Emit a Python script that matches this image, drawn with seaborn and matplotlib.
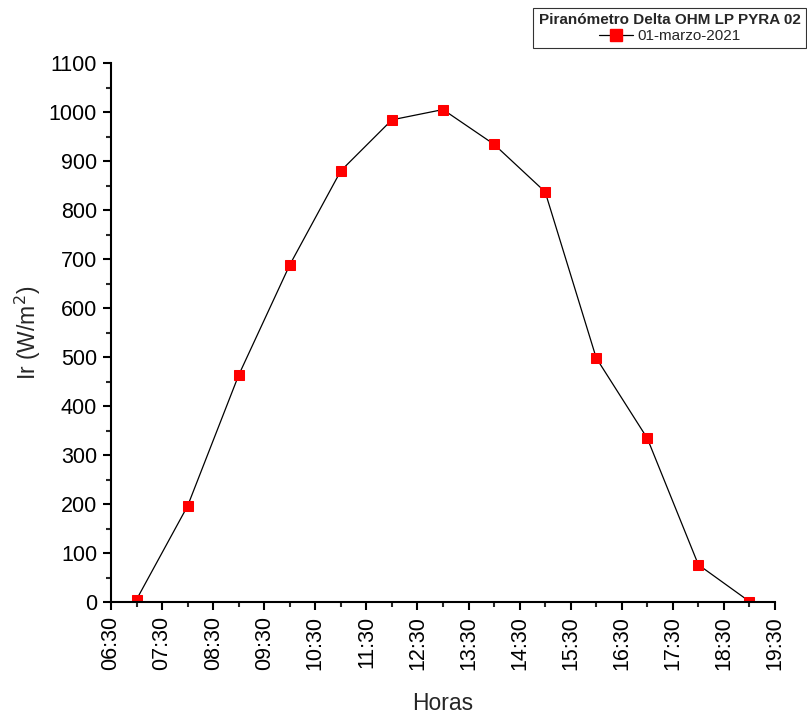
import matplotlib
matplotlib.use("Agg")
import matplotlib.pyplot as plt
import seaborn as sns
import pandas as pd
from matplotlib.ticker import MultipleLocator, FixedLocator
from matplotlib.lines import Line2D

hours = [7, 8, 9, 10, 11, 12, 13, 14, 15, 16, 17, 18, 19]
irradiance = [5, 196, 463, 688, 880, 984, 1005, 934, 837, 498, 334, 76, 1]
tick_labels = ["06:30", "07:30", "08:30", "09:30", "10:30", "11:30", "12:30",
               "13:30", "14:30", "15:30", "16:30", "17:30", "18:30", "19:30"]
series_name = "01-marzo-2021"
legend_title = "Piranómetro Delta OHM LP PYRA 02"

df = pd.DataFrame({"Horas": hours, "Ir": irradiance})

sns.set_style("ticks")
plt.rcParams["font.family"] = ["Liberation Sans", "DejaVu Sans"]

fig = plt.figure(figsize=(8.07, 7.17), dpi=100)
ax = fig.add_axes([111/807, 1-602/717, (775-111)/807, (602-63)/717])

sns.lineplot(data=df, x="Horas", y="Ir", ax=ax, color="black", linewidth=0.9,
             marker="s", markersize=7.5, markerfacecolor="red", markeredgecolor="red")

ax.set_xlim(6.5, 19.5)
ax.set_ylim(0, 1100)
ax.xaxis.set_major_locator(FixedLocator([6.5 + i for i in range(len(tick_labels))]))
ax.set_xticklabels(tick_labels, rotation=90)
ax.xaxis.set_minor_locator(FixedLocator(hours))
ax.yaxis.set_major_locator(MultipleLocator(100))
ax.yaxis.set_minor_locator(MultipleLocator(50))

ax.tick_params(axis="both", which="major", direction="out", length=6, width=1.5,
               labelsize=15.5, colors="black", pad=4)
ax.tick_params(axis="both", which="minor", direction="out", length=3.5, width=1.5)
for s in ["left", "bottom"]:
    ax.spines[s].set_linewidth(1.5)
    ax.spines[s].set_color("black")
sns.despine(ax=ax)

ax.set_xlabel("Horas", fontsize=16.5, labelpad=16)
ax.set_ylabel("Ir (W/m$^2$)", fontsize=16.5, labelpad=4)

handle = Line2D([], [], color="black", linewidth=0.9, marker="s", markersize=8,
                markerfacecolor="red", markeredgecolor="red")
leg = fig.legend([handle], [series_name], title=legend_title,
                 loc="upper right", bbox_to_anchor=(806/807, 1-8/717),
                 frameon=True, fancybox=False, fontsize=11,
                 title_fontproperties={"weight": "bold", "size": 11},
                 borderpad=0.35, handlelength=2.2, handletextpad=0.3,
                 labelspacing=0.1, borderaxespad=0)
leg.get_frame().set_edgecolor("black")
leg.get_frame().set_linewidth(0.8)

fig.savefig("out.png", dpi=100)
